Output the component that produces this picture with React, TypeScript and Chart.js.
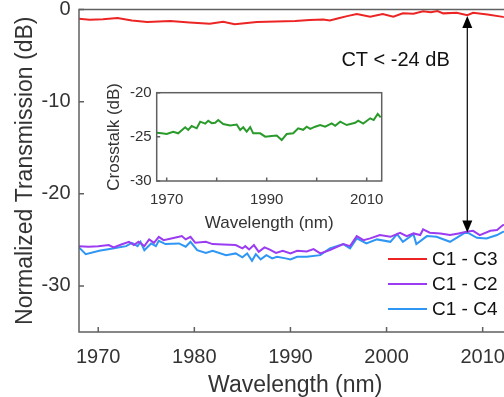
import React, { useEffect, useRef } from 'react';
import { Chart, registerables } from 'chart.js';
Chart.register(...registerables);

// ---------- data ----------
const C3_WL = [1968, 1969.1, 1970.5, 1972.0, 1973.5, 1975.1, 1977.5, 1979.5, 1981.6, 1983.0, 1984.2, 1986.5, 1988.5, 1990.5, 1992, 1993.4, 1994.1, 1995.0, 1995.9, 1996.9, 1998.3, 1999.6, 2000.7, 2001.7, 2002.8, 2003.8, 2004.6, 2005.3, 2005.9, 2007.3, 2008.4, 2009.0, 2010.5, 2012.1, 2013];
const C3_DB = [-1.0, -1.1, -1.05, -0.92, -1.2, -1.35, -1.25, -1.4, -1.55, -1.32, -1.6, -1.35, -1.3, -1.25, -1.15, -1.08, -1.2, -0.95, -0.72, -0.5, -0.78, -0.5, -0.78, -0.42, -0.45, -0.18, -0.3, -0.16, -0.42, -0.36, -0.62, -0.36, -0.55, -0.8, -0.9];

const C2_WL = [1968.0, 1969.0, 1970.0, 1971.1, 1971.6, 1972.4, 1973.2, 1973.7, 1974.2, 1974.8, 1975.3, 1975.8, 1976.3, 1976.8, 1977.6, 1978.4, 1978.7, 1979.1, 1979.6, 1980.1, 1981.2, 1981.9, 1983.0, 1984.3, 1985.0, 1985.3, 1985.7, 1986.2, 1986.7, 1987.3, 1987.8, 1988.5, 1989.2, 1990.0, 1990.7, 1991.7, 1992.4, 1993.1, 1994.1, 1995.5, 1996.2, 1996.9, 1997.6, 1998.3, 1999.3, 2000.4, 2001.4, 2002.1, 2002.8, 2003.5, 2003.8, 2004.5, 2005.6, 2006.6, 2007.5, 2008.3, 2009.0, 2009.7, 2010.8, 2011.5, 2012.1, 2013.0];
const C2_DB = [-25.68, -25.75, -25.7, -25.57, -25.82, -25.5, -25.21, -25.57, -25.21, -25.68, -24.95, -25.32, -24.67, -25.03, -24.85, -24.67, -24.59, -24.95, -24.67, -25.32, -25.21, -25.46, -25.5, -25.57, -25.93, -25.68, -26.04, -25.57, -26.3, -25.82, -26.04, -26.41, -26.19, -26.47, -26.19, -26.25, -26.0, -26.47, -26.12, -25.46, -25.68, -24.59, -25.03, -24.84, -24.48, -24.67, -24.23, -24.59, -24.3, -24.48, -23.87, -24.23, -24.3, -24.48, -24.3, -24.13, -24.02, -24.48, -24.02, -23.94, -23.4, -23.3];

const C4_WL = [1968.0, 1968.7, 1970.1, 1971.5, 1972.9, 1973.5, 1974.1, 1974.4, 1974.8, 1975.5, 1976.0, 1976.3, 1977.0, 1978.4, 1979.1, 1979.6, 1980.3, 1981.2, 1981.9, 1983.3, 1984.3, 1985.0, 1985.5, 1986.0, 1986.4, 1986.9, 1987.5, 1988.1, 1988.6, 1989.5, 1990.0, 1990.7, 1991.7, 1993.1, 1994.1, 1995.5, 1996.2, 1996.9, 1997.9, 1999.0, 2000.4, 2001.1, 2001.7, 2002.8, 2003.1, 2004.2, 2005.2, 2006.6, 2008.3, 2009.4, 2010.4, 2011.5, 2012.1, 2013.0];
const C4_DB = [-25.82, -26.55, -26.19, -25.93, -25.68, -25.32, -25.68, -25.21, -26.12, -25.39, -25.68, -25.1, -25.46, -25.39, -25.75, -25.21, -26.12, -26.41, -26.19, -26.66, -26.47, -26.9, -26.47, -27.27, -26.55, -27.12, -26.66, -27.01, -26.84, -27.01, -27.12, -26.84, -26.84, -26.66, -25.93, -25.46, -25.93, -24.84, -25.39, -24.95, -25.21, -24.38, -25.21, -24.38, -25.46, -24.59, -24.67, -25.21, -24.13, -24.78, -24.84, -24.48, -24.13, -24.0];

const XT_WL = [1968.0, 1969.0, 1970.0, 1971.3, 1972.3, 1973.7, 1974.3, 1975.0, 1976.0, 1976.7, 1977.7, 1978.3, 1979.0, 1979.7, 1980.3, 1981.3, 1982.7, 1984.0, 1984.7, 1985.3, 1986.0, 1986.7, 1987.3, 1988.7, 1989.7, 1991.0, 1992.0, 1993.0, 1994.0, 1995.3, 1996.3, 1997.3, 1998.0, 1998.7, 1999.7, 2000.7, 2001.7, 2003.0, 2003.7, 2004.7, 2006.0, 2007.7, 2008.3, 2009.3, 2010.7, 2011.4, 2012.2, 2012.8];
const XT_DB = [-24.53, -24.6, -24.68, -24.42, -24.6, -23.92, -24.22, -23.77, -24.03, -23.28, -23.5, -23.17, -23.45, -23.4, -23.09, -23.54, -23.7, -23.6, -24.22, -23.92, -24.42, -23.9, -24.6, -24.6, -24.98, -24.9, -24.85, -25.36, -24.68, -24.6, -24.03, -24.2, -23.85, -24.1, -23.85, -23.66, -23.85, -23.47, -23.75, -23.28, -23.66, -23.4, -23.17, -23.5, -22.9, -23.1, -22.4, -22.8];

const SERIES_LABELS = ['C1 - C3', 'C1 - C2', 'C1 - C4'];
const SERIES_COLORS = ['#ec2424', '#9b3cf2', '#2f96f4'];
const INSET_COLOR = '#2a9a2a';

const MAIN_X_TICKS = [1970, 1980, 1990, 2000, 2010];
const MAIN_Y_TICKS = [-30, -20, -10, 0];
const INSET_X_TICKS = [1970, 1980, 1990, 2000, 2010];
const INSET_X_LABELED = [1970, 1990, 2010];
const INSET_Y_TICKS = [-30, -25, -20];

const ANNOT_TEXT = 'CT < -24 dB';
const ANNOT_TEXT_WL = 1995.3;
const ANNOT_TEXT_DB = -5.5;
const ARROW_WL = 2008.4;
const ARROW_TOP_DB = -0.7;
const ARROW_BOTTOM_DB = -24.2;

const FONT = "'Liberation Sans', Arial, Helvetica, sans-serif";
const TEXT = '#333333';
const AXIS = '#606060';

const pts = (xs: number[], ys: number[]) => xs.map((x, i) => ({ x, y: ys[i] }));

const mainDecor = {
  id: 'mainDecor',
  afterDraw(chart: any) {
    const { ctx, chartArea: a, scales } = chart;
    const xs = scales.x, ys = scales.y;
    ctx.save();
    ctx.strokeStyle = AXIS;
    ctx.lineWidth = 1.5;
    ctx.beginPath();
    ctx.moveTo(a.left, a.top); ctx.lineTo(a.right, a.top);
    ctx.lineTo(a.right, a.bottom); ctx.lineTo(a.left, a.bottom); ctx.closePath();
    ctx.stroke();
    ctx.beginPath();
    MAIN_X_TICKS.forEach((v) => {
      const p = xs.getPixelForValue(v);
      ctx.moveTo(p, a.bottom); ctx.lineTo(p, a.bottom - 5);
    });
    MAIN_Y_TICKS.forEach((v) => {
      const p = ys.getPixelForValue(v);
      ctx.moveTo(a.left, p); ctx.lineTo(a.left + 5, p);
    });
    ctx.stroke();

    // annotation arrow
    const ax = xs.getPixelForValue(ARROW_WL);
    const y1 = ys.getPixelForValue(ARROW_TOP_DB);
    const y2 = ys.getPixelForValue(ARROW_BOTTOM_DB);
    const hl = 12, hw = 5;
    ctx.strokeStyle = '#000';
    ctx.fillStyle = '#000';
    ctx.lineWidth = 1.2;
    ctx.beginPath(); ctx.moveTo(ax, y1 + hl - 1); ctx.lineTo(ax, y2 - hl + 1); ctx.stroke();
    ctx.beginPath(); ctx.moveTo(ax, y1); ctx.lineTo(ax - hw, y1 + hl); ctx.lineTo(ax + hw, y1 + hl); ctx.closePath(); ctx.fill();
    ctx.beginPath(); ctx.moveTo(ax, y2); ctx.lineTo(ax - hw, y2 - hl); ctx.lineTo(ax + hw, y2 - hl); ctx.closePath(); ctx.fill();

    ctx.font = `20px ${FONT}`;
    ctx.fillStyle = '#111';
    ctx.textAlign = 'left';
    ctx.textBaseline = 'middle';
    ctx.fillText(ANNOT_TEXT, xs.getPixelForValue(ANNOT_TEXT_WL), ys.getPixelForValue(ANNOT_TEXT_DB));

    // legend
    ctx.font = `19px ${FONT}`;
    ctx.fillStyle = '#111';
    chart.data.datasets.forEach((ds: any, i: number) => {
      const y = a.bottom - 73 + i * 25;
      const x0 = a.right - 123.5;
      ctx.strokeStyle = ds.borderColor;
      ctx.lineWidth = 2;
      ctx.beginPath(); ctx.moveTo(x0, y); ctx.lineTo(x0 + 39, y); ctx.stroke();
      ctx.fillText(ds.label, x0 + 44, y + 1);
    });
    ctx.restore();
  },
};

const insetDecor = {
  id: 'insetDecor',
  afterDraw(chart: any) {
    const { ctx, chartArea: a, scales } = chart;
    ctx.save();
    ctx.strokeStyle = AXIS;
    ctx.lineWidth = 1.5;
    ctx.strokeRect(a.left, a.top, a.right - a.left, a.bottom - a.top);
    ctx.beginPath();
    INSET_X_TICKS.forEach((v) => {
      const p = scales.x.getPixelForValue(v);
      ctx.moveTo(p, a.bottom); ctx.lineTo(p, a.bottom - 3.5);
    });
    INSET_Y_TICKS.forEach((v) => {
      const p = scales.y.getPixelForValue(v);
      ctx.moveTo(a.left, p); ctx.lineTo(a.left + 3.5, p);
    });
    ctx.stroke();
    ctx.restore();
  },
};

const fitX = (h: number, padRight: number) => (s: any) => { s.height = h; s.paddingLeft = 0; s.paddingRight = padRight; };
const fitY = (w: number, padTop: number) => (s: any) => { s.width = w; s.paddingTop = padTop; s.paddingBottom = 0; };
const NO_GRID = { display: false, drawTicks: false };

export default function App() {
  const mainRef = useRef<HTMLCanvasElement>(null);
  const insetRef = useRef<HTMLCanvasElement>(null);

  useEffect(() => {
    document.body.style.margin = '0';
    const line = (label: string, data: any, color: string) => ({
      label, data, borderColor: color, backgroundColor: color, borderWidth: 2,
      pointRadius: 0, tension: 0, fill: false,
    });
    const main = new Chart(mainRef.current!, {
      type: 'line',
      data: {
        datasets: [
          line(SERIES_LABELS[0], pts(C3_WL, C3_DB), SERIES_COLORS[0]),
          line(SERIES_LABELS[1], pts(C2_WL, C2_DB), SERIES_COLORS[1]),
          line(SERIES_LABELS[2], pts(C4_WL, C4_DB), SERIES_COLORS[2]),
        ],
      },
      options: {
        animation: false,
        responsive: false,
        layout: { padding: 0 },
        plugins: { legend: { display: false }, tooltip: { enabled: false } },
        scales: {
          x: {
            type: 'linear', min: 1968, max: 2013,
            afterBuildTicks: (s: any) => { s.ticks = MAIN_X_TICKS.map((value) => ({ value })); },
            afterFit: fitX(65, 8.5),
            grid: NO_GRID, border: { display: false },
            ticks: { font: { family: FONT, size: 20 }, color: TEXT, padding: 13.5, maxRotation: 0, autoSkip: false, callback: (v: any) => String(v) },
            title: { display: true, text: 'Wavelength (nm)', font: { family: FONT, size: 23 }, color: TEXT, padding: { top: 0, bottom: -2 } },
          },
          y: {
            type: 'linear', min: -35, max: 0,
            afterBuildTicks: (s: any) => { s.ticks = MAIN_Y_TICKS.map((value) => ({ value })); },
            afterFit: fitY(79, 9.5),
            grid: NO_GRID, border: { display: false },
            ticks: { font: { family: FONT, size: 20 }, color: TEXT, padding: 8.5, autoSkip: false, callback: (v: any) => String(v) },
            title: { display: true, text: 'Normalized Transmission (dB)', font: { family: FONT, size: 23 }, color: TEXT, padding: { top: 12, bottom: 0 } },
          },
        },
      },
      plugins: [mainDecor],
    } as any);

    const inset = new Chart(insetRef.current!, {
      type: 'line',
      data: { datasets: [line('Crosstalk', pts(XT_WL, XT_DB), INSET_COLOR)] },
      options: {
        animation: false,
        responsive: false,
        layout: { padding: 0 },
        plugins: { legend: { display: false }, tooltip: { enabled: false } },
        scales: {
          x: {
            type: 'linear', min: 1968, max: 2013,
            afterBuildTicks: (s: any) => { s.ticks = INSET_X_TICKS.map((value) => ({ value })); },
            afterFit: fitX(54, 8.3),
            grid: NO_GRID, border: { display: false },
            ticks: { font: { family: FONT, size: 15 }, color: TEXT, padding: 10, maxRotation: 0, autoSkip: false,
              callback: (v: any) => (INSET_X_LABELED.includes(Number(v)) ? String(v) : '') },
            title: { display: true, text: 'Wavelength (nm)', font: { family: FONT, size: 17 }, color: TEXT, padding: { top: 0, bottom: 1 } },
          },
          y: {
            type: 'linear', min: -30, max: -20,
            afterBuildTicks: (s: any) => { s.ticks = INSET_Y_TICKS.map((value) => ({ value })); },
            afterFit: fitY(66.7, 14.7),
            grid: NO_GRID, border: { display: false },
            ticks: { font: { family: FONT, size: 15 }, color: TEXT, padding: 5, autoSkip: false, callback: (v: any) => String(v) },
            title: { display: true, text: 'Crosstalk (dB)', font: { family: FONT, size: 17 }, color: TEXT, padding: { top: 14, bottom: 0 } },
          },
        },
      },
      plugins: [insetDecor],
    } as any);

    return () => { main.destroy(); inset.destroy(); };
  }, []);

  return (
    <div style={{ position: 'fixed', left: 0, top: 0, width: 504, height: 397, overflow: 'hidden', background: '#fff' }}>
      <canvas ref={mainRef} width={520} height={397} style={{ position: 'absolute', left: 0, top: 0 }} />
      <canvas ref={insetRef} width={300} height={157} style={{ position: 'absolute', left: 90, top: 78 }} />
    </div>
  );
}
